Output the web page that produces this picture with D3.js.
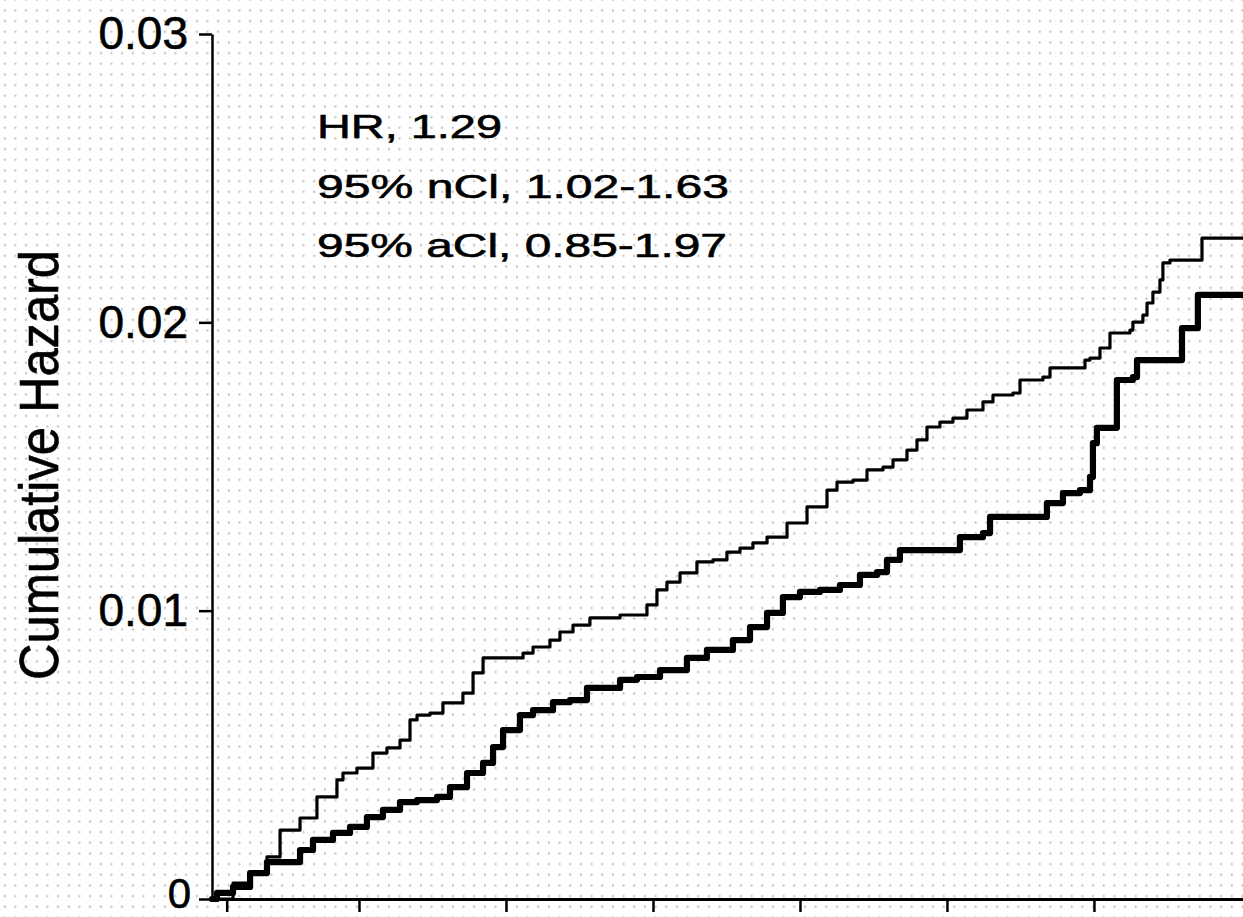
<!DOCTYPE html>
<html><head><meta charset="utf-8">
<script src="https://cdn.jsdelivr.net/npm/d3@7"></script>
<style>html,body{margin:0;padding:0;background:#fff;overflow:hidden}</style>
</head><body>
<svg id="chart" width="1243" height="917"></svg>
<script>
// ---- data (time in years, cumulative hazard) ----
const xTicks = [0.1, 1, 2, 3, 4, 5, 6];
const yTicks = [0, 0.01, 0.02, 0.03];
const yLabel = "Cumulative Hazard";
const annotationLines = ["HR, 1.29", "95% nCl, 1.02-1.63", "95% aCl, 0.85-1.97"];

const thinTime = [0,0.143,0.259,0.374,0.463,0.599,0.714,0.850,0.891,0.986,1.095,1.190,1.279,1.347,1.395,1.483,1.571,1.707,1.776,1.844,2.116,2.184,2.299,2.367,2.456,2.571,2.776,2.959,3.027,3.095,3.184,3.299,3.408,3.503,3.592,3.680,3.776,3.912,4.048,4.184,4.252,4.361,4.456,4.565,4.633,4.728,4.796,4.864,4.952,5.041,5.136,5.245,5.313,5.449,5.497,5.653,5.701,5.939,5.973,6.041,6.109,6.245,6.265,6.333,6.361,6.401,6.449,6.469,6.517,6.735,7.02];
const thinHazard = [0,0.00055,0.00090,0.00146,0.00239,0.00281,0.00354,0.00413,0.00437,0.00454,0.00506,0.00524,0.00551,0.00621,0.00638,0.00645,0.00680,0.00714,0.00784,0.00836,0.00853,0.00874,0.00898,0.00926,0.00950,0.00975,0.00985,0.01020,0.01072,0.01099,0.01131,0.01169,0.01176,0.01203,0.01217,0.01235,0.01255,0.01304,0.01360,0.01418,0.01446,0.01453,0.01488,0.01498,0.01523,0.01557,0.01592,0.01637,0.01654,0.01668,0.01696,0.01724,0.01748,0.01755,0.01800,0.01810,0.01842,0.01869,0.01876,0.01911,0.01963,0.01973,0.02001,0.02025,0.02067,0.02105,0.02147,0.02206,0.02216,0.02292,0.02292];

const thickTime = [0,0.034,0.143,0.259,0.374,0.599,0.687,0.823,0.939,1.054,1.163,1.279,1.395,1.531,1.619,1.735,1.844,1.912,1.980,2.095,2.184,2.320,2.435,2.551,2.776,2.891,3.048,3.231,3.367,3.544,3.660,3.776,3.884,4.000,4.136,4.272,4.408,4.524,4.592,4.680,5.088,5.245,5.293,5.680,5.789,5.905,5.973,5.993,6.020,6.156,6.265,6.293,6.599,6.707,7.02];
const thickHazard = [0,0.00021,0.00042,0.00090,0.00128,0.00170,0.00205,0.00229,0.00250,0.00284,0.00309,0.00336,0.00343,0.00354,0.00388,0.00437,0.00472,0.00527,0.00586,0.00638,0.00655,0.00683,0.00690,0.00732,0.00760,0.00770,0.00794,0.00836,0.00864,0.00898,0.00943,0.00992,0.01047,0.01065,0.01072,0.01089,0.01124,0.01134,0.01176,0.01210,0.01255,0.01269,0.01325,0.01373,0.01408,0.01418,0.01464,0.01581,0.01634,0.01800,0.01810,0.01869,0.01980,0.02095,0.02095];

// ---- layout ----
const W = 1243, H = 917;
const FONT = "'Liberation Sans', Arial, Helvetica, sans-serif";
const svg = d3.select("#chart");

// dotted background
const defs = svg.append("defs");
const pat = defs.append("pattern").attr("id","dots")
  .attr("patternUnits","userSpaceOnUse").attr("width",10.67).attr("height",10.67)
  .attr("x",0).attr("y",5);
pat.append("rect").attr("width",10.67).attr("height",10.67).attr("fill","#fff");
pat.append("circle").attr("cx",4.7).attr("cy",5.5).attr("r",1.1).attr("fill","#b8b8b8");
svg.append("rect").attr("width",W).attr("height",H).attr("fill","url(#dots)");

const x = d3.scaleLinear().domain([0, 7.014]).range([212, 1243]);
const y = d3.scaleLinear().domain([0, 0.03]).range([899, 34]);

// x axis
const gx = svg.append("g").attr("transform",`translate(0,${y(0)})`)
  .call(d3.axisBottom(x).tickValues(xTicks).tickSize(13).tickSizeOuter(0).tickFormat(""));
gx.select(".domain").attr("stroke","#000").attr("stroke-width",3);
gx.selectAll(".tick line").attr("stroke","#000").attr("stroke-width",2.5);

// y axis
const gy = svg.append("g").attr("transform",`translate(${x(0)},0)`)
  .call(d3.axisLeft(y).tickValues(yTicks).tickSize(13).tickSizeOuter(0).tickPadding(11)
    .tickFormat(d => d === 0 ? "0" : d.toFixed(2)));
gy.select(".domain").attr("stroke","#000").attr("stroke-width",2.5);
gy.selectAll(".tick line").attr("stroke","#000").attr("stroke-width",2.5);
gy.selectAll(".tick text").attr("font-family",FONT).attr("font-size",46).attr("fill","#000")
  .attr("stroke","#000").attr("stroke-width",0.6);
// bottom "0" label: keep it inside the picture
gy.selectAll(".tick text").filter(d => d === 0)
  .attr("font-size",42).attr("dy","0.2em").attr("x",-21);

// y label
svg.append("text")
  .attr("transform","translate(58,465) rotate(-90)")
  .attr("text-anchor","middle")
  .attr("font-family",FONT).attr("font-size",56)
  .attr("textLength",430).attr("lengthAdjust","spacingAndGlyphs")
  .attr("fill","#000").attr("stroke","#000").attr("stroke-width",0.6)
  .text(yLabel);

// curves
const line = d3.line().x(d => x(d[0])).y(d => y(d[1])).curve(d3.curveStepAfter);
const thinData = thinTime.map((t,i) => [t, thinHazard[i]]);
const thickData = thickTime.map((t,i) => [t, thickHazard[i]]);

svg.append("path").datum(thinData).attr("d",line)
  .attr("fill","none").attr("stroke","#000").attr("stroke-width",3.2)
  .attr("stroke-linejoin","round").attr("stroke-linecap","round");
svg.append("path").datum(thickData).attr("d",line)
  .attr("fill","none").attr("stroke","#000").attr("stroke-width",6.2)
  .attr("stroke-linejoin","round").attr("stroke-linecap","round");

// annotation
const annWidths = [185, 412, 410];
const ann = svg.append("g").attr("font-family",FONT).attr("font-size",34)
  .attr("fill","#000").attr("stroke","#000").attr("stroke-width",0.6);
annotationLines.forEach((s,i) => {
  ann.append("text").attr("x",317).attr("y",138 + i*59.5)
    .attr("textLength",annWidths[i]).attr("lengthAdjust","spacingAndGlyphs")
    .text(s);
});
</script>
</body></html>
